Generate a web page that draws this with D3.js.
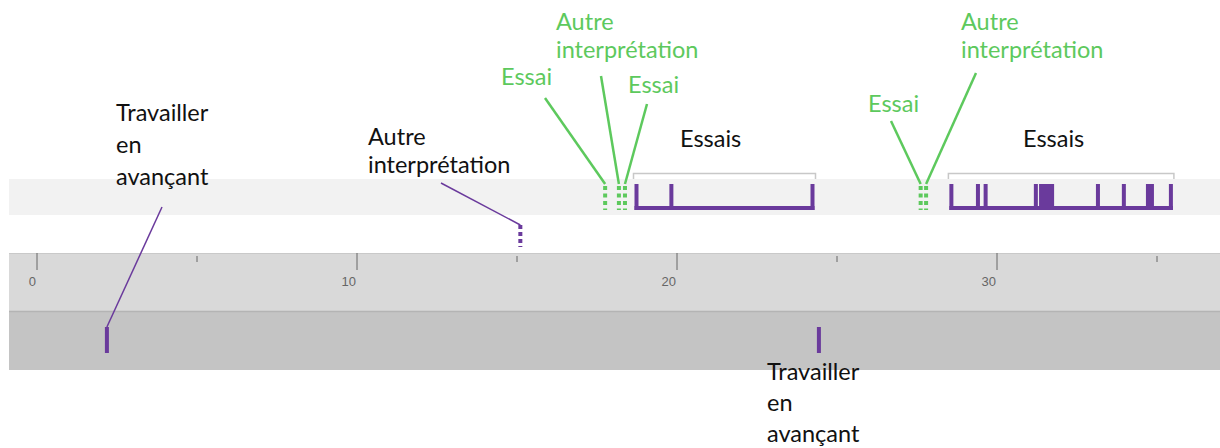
<!DOCTYPE html>
<html>
<head>
<meta charset="utf-8">
<script src="https://cdn.jsdelivr.net/npm/d3@7/dist/d3.min.js"></script>
<style>
  body { margin: 0; background: #fff; }
  svg { display: block; font-family: Lato, "Open Sans", sans-serif; }
  .label { font-size: 23.5px; fill: #111; }
  .label--green { fill: #5dc95d; }
  .axis text { font-size: 13px; fill: #666; }
  .axis line { stroke: #666; }
</style>
</head>
<body>
<svg id="chart" width="1220" height="448"></svg>
<script>
// timeline values (seconds)
var majorTicks   = [0, 10, 20, 30];
var minorTicks   = [5, 15, 25, 35];
var travailler   = [2.2, 24.45];
var autreInterp  = [15.12];
var essais1      = [[18.75, 18.75], [19.84, 19.84], [24.25, 24.25]];
var essais2      = [[28.59, 28.59], [29.42, 29.42], [29.66, 29.66], [31.23, 31.23], [31.33, 31.8],
                    [33.17, 33.17], [33.98, 33.98], [34.67, 34.92], [35.45, 35.45]];
var greenNames   = ['Essai', 'Autre interprétation', 'Essai', 'Essai', 'Autre interprétation'];
var greenValues  = [17.77, 18.2, 18.39, 27.63, 27.8];

var purple = '#6a3a9c';
var green  = '#5dc95d';

var svg = d3.select('#chart');
var x = d3.scaleLinear().domain([0, 10]).range([36.5, 356.5]);

// rows
var rows = {
    top:    { y: 179, h: 36, fill: '#f2f2f2' },
    mid:    { y: 215, h: 38, fill: '#fff' },
    axis:   { y: 253, h: 58, fill: '#d9d9d9' },
    bottom: { y: 311, h: 59, fill: '#c4c4c4' }
};

svg.selectAll('.row')
    .data(Object.values(rows))
    .enter().append('rect')
    .attr('class', 'row')
    .attr('x', 9)
    .attr('y', d => d.y)
    .attr('width', 1220 - 9)
    .attr('height', d => d.h)
    .attr('fill', d => d.fill)
;

svg.append('line')
    .attr('x1', 9).attr('x2', 1220)
    .attr('y1', rows.axis.y + 0.5).attr('y2', rows.axis.y + 0.5)
    .attr('stroke', '#c9c9c9');
svg.append('line')
    .attr('x1', 9).attr('x2', 1220)
    .attr('y1', rows.bottom.y + 0.5).attr('y2', rows.bottom.y + 0.5)
    .attr('stroke', '#b4b4b4').attr('stroke-width', 1.5);

// axis
var axisMajor = svg.append('g')
    .attr('class', 'axis')
    .attr('transform', `translate(0, ${ rows.axis.y })`)
    .call(d3.axisBottom(x).tickValues(majorTicks).tickSize(17).tickPadding(3))
;
axisMajor.select('.domain').remove();
axisMajor.selectAll('text').attr('text-anchor', 'end').attr('dx', '-1').attr('dy', '1em');

var axisMinor = svg.append('g')
    .attr('class', 'axis')
    .attr('transform', `translate(0, ${ rows.axis.y + 3 })`)
    .call(d3.axisBottom(x).tickValues(minorTicks).tickSize(6).tickFormat(''))
;
axisMinor.select('.domain').remove();

// label helper
function label(text, px, py, lh, cls) {
    var t = svg.append('text').attr('class', 'label ' + (cls || '')).attr('x', px).attr('y', py);
    text.split('\n').forEach((line, i) => {
        t.append('tspan').attr('x', px).attr('dy', i ? lh : 0).text(line);
    });
    return t;
}

function leader(x1, y1, x2, y2, color, w) {
    svg.append('line')
        .attr('x1', x1).attr('y1', y1).attr('x2', x2).attr('y2', y2)
        .attr('stroke', color).attr('stroke-width', w);
}

// Travailler en avançant (bottom row)
svg.selectAll('.travailler')
    .data(travailler)
    .enter().append('rect')
    .attr('class', 'travailler')
    .attr('x', d => x(d) - 2)
    .attr('y', rows.bottom.y + 16)
    .attr('width', 4)
    .attr('height', 26)
    .attr('fill', purple)
;
leader(162, 207, x(travailler[0]), rows.bottom.y + 16, purple, 1.5);
label('Travailler\nen\navançant', 116, 121, 32);
label('Travailler\nen\navançant', 767, 380, 31);

// Autre interprétation (mid row, dotted)
svg.selectAll('.autre')
    .data(autreInterp)
    .enter().append('line')
    .attr('class', 'autre')
    .attr('x1', d => x(d)).attr('x2', d => x(d))
    .attr('y1', rows.mid.y + 10).attr('y2', rows.mid.y + 32)
    .attr('stroke', purple).attr('stroke-width', 4)
    .attr('stroke-dasharray', '4,3')
;
leader(441, 183, x(autreInterp[0]), rows.mid.y + 10, purple, 1.5);
label('Autre\ninterprétation', 368, 145, 28);

// green dotted marks (top row)
var greenLabels = [
    { px: 501, py: 85,  from: [545, 98] },
    { px: 556, py: 30,  from: [601, 76] },
    { px: 628, py: 93,  from: [647, 104] },
    { px: 868, py: 112, from: [891, 121] },
    { px: 961, py: 30,  from: [976, 73] }
];

svg.selectAll('.green')
    .data(greenValues)
    .enter().append('line')
    .attr('class', 'green')
    .attr('x1', d => x(d)).attr('x2', d => x(d))
    .attr('y1', rows.top.y + 7).attr('y2', rows.top.y + 31)
    .attr('stroke', green).attr('stroke-width', 4)
    .attr('stroke-dasharray', '4,3.5')
;
greenValues.forEach((v, i) => {
    var l = greenLabels[i];
    leader(l.from[0], l.from[1], x(v), rows.top.y + 5, green, 2.5);
    label(greenNames[i].replace(' ', '\n'), l.px, l.py, 28, 'label--green');
});

// Essais groups (top row)
function essaisGroup(events, labelX) {
    var first = events[0][0], last = events[events.length - 1][1];
    var g = svg.append('g').attr('class', 'essais');

    // bracket
    g.append('path')
        .attr('d', `M${ x(first) - 3 },179 V173.5 H${ x(last) + 3 } V179`)
        .attr('fill', 'none').attr('stroke', '#c8c8c8').attr('stroke-width', 1.5);

    // baseline
    g.append('rect')
        .attr('x', x(first) - 2)
        .attr('y', rows.top.y + 27)
        .attr('width', x(last) - x(first) + 4)
        .attr('height', 4)
        .attr('fill', purple);

    // events: single instants get a 4px bar, spans are drawn to their extent
    g.selectAll('.event')
        .data(events)
        .enter().append('rect')
        .attr('class', 'event')
        .attr('x', d => d[1] > d[0] ? x(d[0]) : x(d[0]) - 2)
        .attr('y', rows.top.y + 5)
        .attr('width', d => d[1] > d[0] ? x(d[1]) - x(d[0]) : 4)
        .attr('height', 26)
        .attr('fill', purple);

    label('Essais', labelX, 147, 28);
}
essaisGroup(essais1, 680);
essaisGroup(essais2, 1023);
</script>
</body>
</html>
